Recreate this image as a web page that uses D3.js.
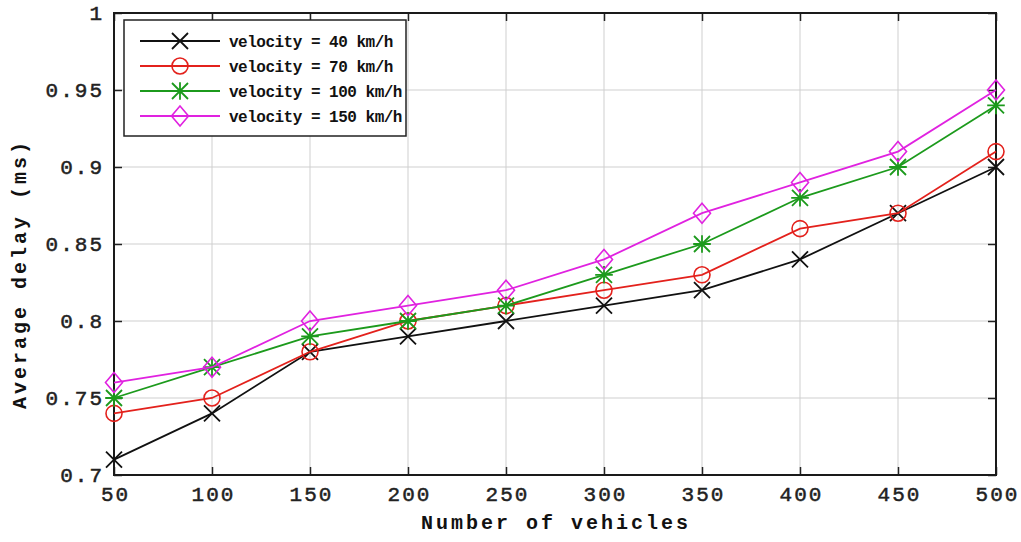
<!DOCTYPE html>
<html><head><meta charset="utf-8">
<script src="https://cdn.jsdelivr.net/npm/d3@7"></script>
<style>body{margin:0;background:#fff}svg{display:block}</style>
</head><body>
<svg id="c" width="1021" height="542"></svg>
<script>
const vehicles = [50,100,150,200,250,300,350,400,450,500];
const v40  = [0.71,0.74,0.78,0.79,0.80,0.81,0.82,0.84,0.87,0.90];
const v70  = [0.74,0.75,0.78,0.80,0.81,0.82,0.83,0.86,0.87,0.91];
const v100 = [0.75,0.77,0.79,0.80,0.81,0.83,0.85,0.88,0.90,0.94];
const v150 = [0.76,0.77,0.80,0.81,0.82,0.84,0.87,0.89,0.91,0.95];
const seriesNames = ["velocity = 40 km/h","velocity = 70 km/h","velocity = 100 km/h","velocity = 150 km/h"];
const seriesColors = ["#111111","#e3211c","#1c9a1c","#e022e0"];
const seriesMarkers = ["x","o","*","d"];
const xTicks = [50,100,150,200,250,300,350,400,450,500];
const yTicks = [0.7,0.75,0.8,0.85,0.9,0.95,1];
const yTickLabels = ["0.7","0.75","0.8","0.85","0.9","0.95","1"];

const series = [v40,v70,v100,v150].map((v,i)=>({name:seriesNames[i],color:seriesColors[i],marker:seriesMarkers[i],values:v}));

const L=114,R=996,T=13,B=475;
const svg=d3.select("#c");
const x=d3.scaleLinear().domain([50,500]).range([L,R]);
const y=d3.scaleLinear().domain([0.7,1]).range([B,T]);
const mono="'Liberation Mono','DejaVu Sans Mono',monospace";

// grid
const g=svg.append("g");
g.selectAll(".gx").data(xTicks).join("line").attr("x1",d=>x(d)).attr("x2",d=>x(d)).attr("y1",T).attr("y2",B).attr("stroke","#cfcfcf").attr("stroke-width",1);
g.selectAll(".gy").data(yTicks).join("line").attr("x1",L).attr("x2",R).attr("y1",d=>y(d)).attr("y2",d=>y(d)).attr("stroke","#cfcfcf").attr("stroke-width",1);

// axes
const ax=d3.axisBottom(x).tickValues(xTicks).tickSize(-8).tickPadding(11).tickFormat(d3.format("d"));
const axG=svg.append("g").attr("transform",`translate(0,${B})`).call(ax);
const axT=svg.append("g").attr("transform",`translate(0,${T})`).call(d3.axisTop(x).tickValues(xTicks).tickSize(-8).tickFormat(""));
const ay=d3.axisLeft(y).tickValues(yTicks).tickSize(-8).tickPadding(10).tickFormat((d,i)=>yTickLabels[i]);
const ayG=svg.append("g").attr("transform",`translate(${L},0)`).call(ay);
const ayR=svg.append("g").attr("transform",`translate(${R},0)`).call(d3.axisRight(y).tickValues(yTicks).tickSize(-8).tickFormat(""));
[axG,axT,ayG,ayR].forEach(a=>{
  a.select(".domain").remove();
  a.selectAll("line").attr("stroke","#222").attr("stroke-width",1.5);
  a.selectAll("text").attr("font-family",mono).attr("font-size",21).attr("fill","#222").attr("stroke","#222").attr("stroke-width",0.5).attr("font-weight","normal").attr("letter-spacing","2px");
});
axG.selectAll("text").attr("dy","0.71em").attr("dx","1px");
svg.append("rect").attr("x",L).attr("y",T).attr("width",R-L).attr("height",B-T).attr("fill","none").attr("stroke","#1a1a1a").attr("stroke-width",2);

// marker
function drawMarker(sel,type,color,cx,cy){
  const s=8;
  if(type==="x"){
    sel.append("path").attr("d",`M${cx-s},${cy-s}L${cx+s},${cy+s}M${cx-s},${cy+s}L${cx+s},${cy-s}`).attr("stroke",color).attr("stroke-width",1.8).attr("fill","none");
  } else if(type==="o"){
    sel.append("circle").attr("cx",cx).attr("cy",cy).attr("r",s).attr("stroke",color).attr("stroke-width",1.6).attr("fill","none");
  } else if(type==="*"){
    sel.append("path").attr("d",`M${cx-s},${cy-s}L${cx+s},${cy+s}M${cx-s},${cy+s}L${cx+s},${cy-s}M${cx},${cy-s*1.1}L${cx},${cy+s*1.1}M${cx-s*1.1},${cy}L${cx+s*1.1},${cy}`).attr("stroke",color).attr("stroke-width",1.8).attr("fill","none");
  } else {
    const d=s*1.25;
    sel.append("path").attr("d",`M${cx},${cy-d}L${cx+d*0.85},${cy}L${cx},${cy+d}L${cx-d*0.85},${cy}Z`).attr("stroke",color).attr("stroke-width",1.6).attr("fill","none");
  }
}

const line=d3.line().x((d,i)=>x(vehicles[i])).y(d=>y(d));
series.forEach(s=>{
  const sg=svg.append("g");
  sg.append("path").datum(s.values).attr("d",line).attr("fill","none").attr("stroke",s.color).attr("stroke-width",1.8);
  s.values.forEach((v,i)=>drawMarker(sg,s.marker,s.color,x(vehicles[i]),y(v)));
});

// legend
const lg=svg.append("g");
lg.append("rect").attr("x",124).attr("y",20).attr("width",282).attr("height",116).attr("fill","#fff").attr("stroke","#222").attr("stroke-width",1.5);
series.forEach((s,i)=>{
  const yy=41+i*25;
  lg.append("line").attr("x1",140).attr("x2",220).attr("y1",yy).attr("y2",yy).attr("stroke",s.color).attr("stroke-width",1.8);
  drawMarker(lg,s.marker,s.color,180,yy);
  lg.append("text").attr("x",229).attr("y",yy).attr("dy","0.35em").attr("font-family",mono).attr("font-weight","bold").attr("font-size",16).attr("letter-spacing","-0.5px").attr("fill","#111").text(s.name);
});

// titles
svg.append("text").attr("x",(L+R)/2+1).attr("y",529).attr("text-anchor","middle").attr("font-family",mono).attr("font-weight","bold").attr("font-size",20).attr("letter-spacing","3px").attr("fill","#111").text("Number of vehicles");
svg.append("text").attr("transform",`translate(26,${(T+B)/2+30}) rotate(-90)`).attr("text-anchor","middle").attr("font-family",mono).attr("font-weight","bold").attr("font-size",20).attr("letter-spacing","3px").attr("fill","#111").text("Average delay (ms)");
</script>
</body></html>
